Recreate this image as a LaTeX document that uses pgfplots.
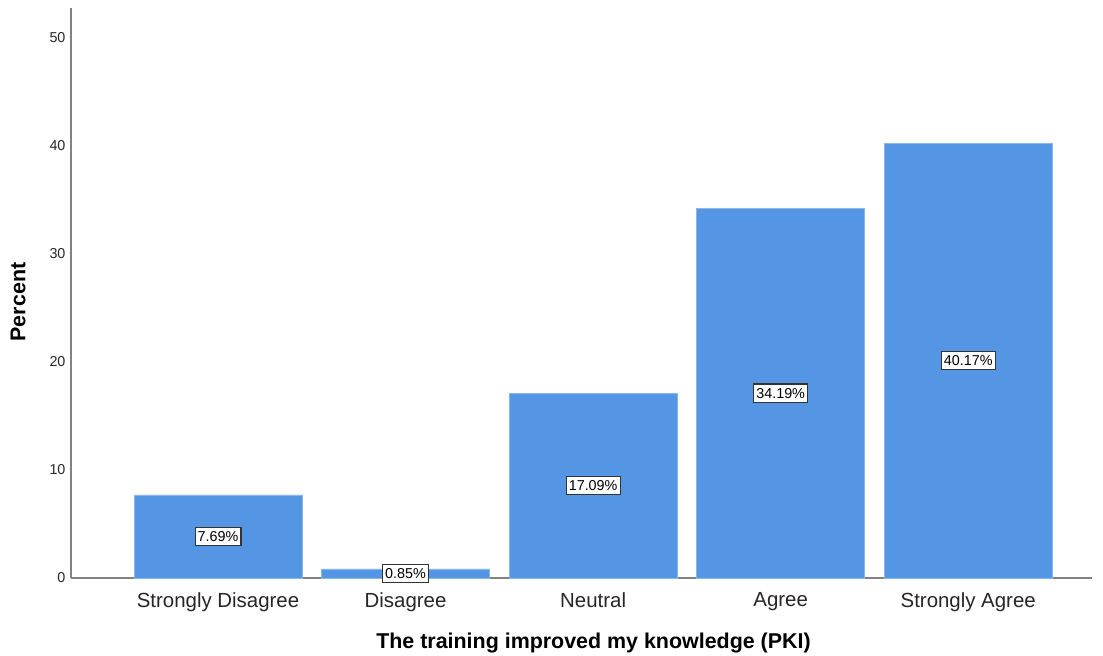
\documentclass[border=0pt]{standalone}
\usepackage{pgfplots}
\pgfplotsset{compat=1.18}
\usepackage{fontspec}
\setmainfont{Liberation Sans}
\definecolor{barblue}{RGB}{84,149,228}
\definecolor{axisgray}{RGB}{130,130,130}

\begin{document}
\begin{tikzpicture}[x=1bp,y=1bp]
\begin{axis}[
    scale only axis,
    width=1021bp, height=570bp,
    at={(0,0)}, anchor=south west,
    axis lines=left,
    axis line style={-, axisgray, line width=1.2bp},
    xmin=-0.784, xmax=4.66,
    ymin=0, ymax=52.7,
    ytick={0,10,20,30,40,50},
    xtick={0,1,2,3,4},
    xticklabels={Strongly Disagree, Disagree, Neutral, Agree, Strongly Agree},
    major tick length=0pt,
    /pgf/number format/assume math mode=true,
    yticklabel style={font=\fontsize{14.4}{16}\selectfont, text=black!85, xshift=-2bp},
    xticklabel style={font=\fontsize{20.5}{23}\selectfont, text=black!85, yshift=-11bp},
    ylabel={\textbf{Percent}},
    xlabel={\textbf{The training improved my knowledge (PKI)}},
    label style={font=\fontsize{21.5}{24}\selectfont},
    % rotated label: yshift moves it left, xshift moves it up
    ylabel style={at={(axis description cs:0,0.5)}, anchor=center, yshift=53bp, xshift=-9bp},
    xlabel style={at={(axis description cs:0.5,0)}, anchor=center, yshift=-65bp, xshift=12bp},
    clip=false,
]
\addplot[
    ybar, bar width=0.896, bar shift=0,
    fill=barblue, draw=barblue!70!white, line width=0.6bp,
    point meta=explicit,
    visualization depends on=y \as \ry,
    nodes near coords={\pgfmathprintnumber[fixed,precision=2,fixed zerofill]{\pgfplotspointmeta}\%},
    every node near coord/.append style={
        anchor=center,
        shift={(axis direction cs:0,-\ry/2)},
        font=\fontsize{14.4}{16}\selectfont,
        fill=white, draw=black!80, line width=1.1bp,
        inner xsep=2.6bp, inner ysep=4bp, text=black,
    },
] coordinates {
    (0,7.69) [7.69]
    (1,0.85) [0.85]
    (2,17.09) [17.09]
    (3,34.19) [34.19]
    (4,40.17) [40.17]
};
\end{axis}
\pgfresetboundingbox
\path[use as bounding box] (-71bp,-78bp) rectangle (1032bp,578bp);
\end{tikzpicture}
\end{document}
